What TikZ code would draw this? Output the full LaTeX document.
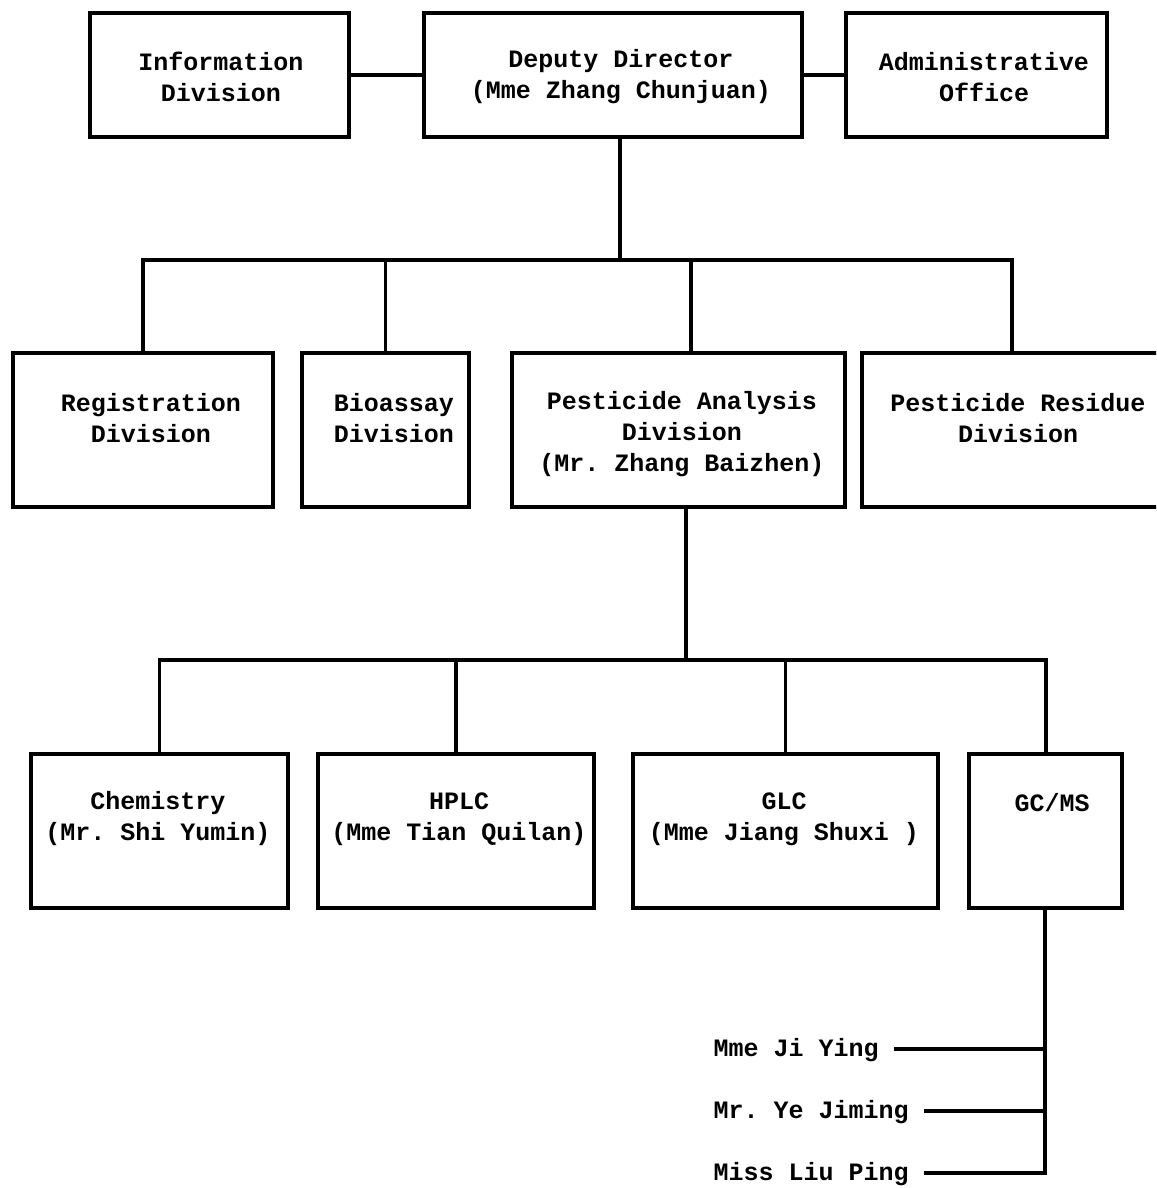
\documentclass[tikz,border=0pt]{standalone}
\usepackage{fontspec}
\setmonofont{Liberation Mono}
\usetikzlibrary{fit}
\begin{document}
\begin{tikzpicture}[x=0.5pt,y=-0.5pt,line width=1.6pt,
  box/.style={draw,inner sep=0pt,line join=miter},
  txt/.style={font=\ttfamily\bfseries\fontsize{12.5}{15.5}\selectfont,align=center,inner sep=0pt},
  persontxt/.style={font=\ttfamily\bfseries\fontsize{12.5}{15.5}\selectfont,anchor=west,text height=7pt,text depth=0pt,inner xsep=7pt,inner ysep=0pt}]
\clip (0,0) rectangle (1156,1188);
\fill[white] (0,0) rectangle (1156,1188);
% boxes
\node[box,fit={(90,13)(349,137)}] (info) {};
\node[box,fit={(424,13)(802,137)}] (dep) {};
\node[box,fit={(846,13)(1107,137)}] (adm) {};
\node[box,fit={(13,353)(273,507)}] (reg) {};
\node[box,fit={(302,353)(469,507)}] (bio) {};
\node[box,fit={(512,353)(845,507)}] (pa) {};
\node[box,fit={(862,353)(1162,507)}] (res) {};
\node[box,fit={(31,754)(288,908)}] (chem) {};
\node[box,fit={(318,754)(594,908)}] (hplc) {};
\node[box,fit={(633,754)(938,908)}] (glc) {};
\node[box,fit={(969,754)(1122,908)}] (gcms) {};
% texts
\node[txt] (infoT) at (221,77) {Information\\Division};
\node[txt] (depT) at (621,77) {Deputy Director\\(Mme Zhang Chunjuan)};
\node[txt] (admT) at (984,77) {Administrative\\Office};
\node[txt] (regT) at (151,418) {Registration\\Division};
\node[txt] (bioT) at (394,418) {Bioassay\\Division};
\node[txt] (paT) at (682,434) {Pesticide Analysis\\Division\\(Mr. Zhang Baizhen)};
\node[txt] (resT) at (1018,418) {Pesticide Residue\\Division};
\node[txt] (chemT) at (158,819) {Chemistry\\(Mr. Shi Yumin)};
\node[txt] (hplcT) at (459,819) {HPLC\\(Mme Tian Quilan)};
\node[txt] (glcT) at (784,819) {GLC\\(Mme Jiang Shuxi )};
\node[txt] (gcmsT) at (1052,803) {GC/MS};
% persons
\node[persontxt] (p1) at (698,1049) {Mme Ji Ying};
\node[persontxt] (p2) at (698,1111) {Mr. Ye Jiming};
\node[persontxt] (p3) at (698,1173) {Miss Liu Ping};
% top connectors
\draw (info.east) -- (dep.west);
\draw (dep.east) -- (adm.west);
\coordinate (bus1) at (620,260);
\coordinate (bus1r) at (1012,260);
\coordinate (pad) at (691,260);
\draw (bus1 |- dep.south) -- (bus1);
\draw (reg.north) |- (bus1r) -- (res.north);
\draw (bio.north) -- (bio.north |- bus1);
\draw (pad) -- (pad |- pa.north);
% second level
\coordinate (bus2) at (686,660);
\coordinate (bus2r) at (1046,660);
\draw (bus2 |- pa.south) -- (bus2);
\draw (chem.north) |- (bus2r) -- (bus2r |- gcms.north);
\draw (hplc.north) -- (hplc.north |- bus2);
\draw (glc.north) -- (glc.north |- bus2);
% GC/MS staff
\coordinate (trunk) at (1045,1173);
\draw (trunk |- gcms.south) -- (trunk) -- (p3.east);
\draw (p1.east) -- (p1.east -| trunk);
\draw (p2.east) -- (p2.east -| trunk);
\end{tikzpicture}
\end{document}
